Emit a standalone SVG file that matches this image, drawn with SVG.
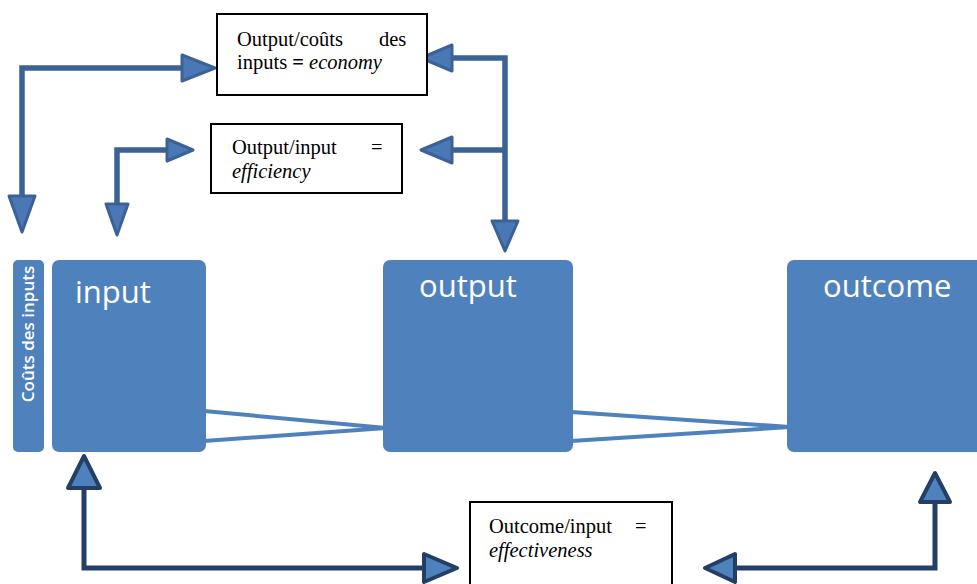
<svg xmlns="http://www.w3.org/2000/svg" width="977" height="584" viewBox="0 0 977 584">
<style>
.blue{fill:#4f81bd}
.lbl{fill:#ffffff;font-family:"Open Sans","Liberation Sans",sans-serif;font-size:31px}
.side{fill:#ffffff;font-family:"Open Sans","Liberation Sans",sans-serif;font-size:17px;font-weight:600}
.box{fill:#ffffff;stroke:#000000;stroke-width:2}
.serif{font-family:"Liberation Serif","Times New Roman",serif;font-size:20.5px;fill:#000000}
.it{font-style:italic}
.ln{fill:none;stroke:#3b6296;stroke-width:5.5;stroke-linejoin:miter}
.lnd{fill:none;stroke:#233f66;stroke-width:5;stroke-linejoin:miter}
.hd{fill:#4a78b5;stroke:#3b6296;stroke-width:3;stroke-linejoin:round}
.hdd{fill:#4f81bd;stroke:#233f66;stroke-width:4;stroke-linejoin:round}
.cn{fill:none;stroke:#4f81bd;stroke-width:4}
</style>
<g id="connectors">
  <line class="cn" x1="204" y1="411" x2="386" y2="428"/>
  <line class="cn" x1="204" y1="441" x2="386" y2="428"/>
  <line class="cn" x1="571" y1="412" x2="790" y2="427"/>
  <line class="cn" x1="571" y1="441" x2="790" y2="427"/>
  <path class="ln" d="M22,198 V68 H184"/>
  <polygon class="hd" points="182,55 215,68 182,81"/>
  <polygon class="hd" points="9,196 35,196 22,232"/>
  <path class="ln" d="M117,206 V150 H169"/>
  <polygon class="hd" points="167,139 193,150 167,161"/>
  <polygon class="hd" points="106,204 128,204 117,235"/>
  <path class="ln" d="M450,58 H505 V223"/>
  <path class="ln" d="M450,150 H505"/>
  <polygon class="hd" points="452,45 421,58 452,71"/>
  <polygon class="hd" points="452,137 421,150 452,163"/>
  <polygon class="hd" points="492,221 518,221 505,251"/>
  <path class="lnd" d="M84,486 V568 H426"/>
  <polygon class="hdd" points="68,488 100,488 84,456"/>
  <polygon class="hdd" points="424,554 457,568 424,582"/>
  <path class="lnd" d="M935,500 V568 H733"/>
  <polygon class="hdd" points="920,502 950,502 935,473"/>
  <polygon class="hdd" points="735,554 705,568 735,582"/>
</g>
<g id="couts">
  <rect class="blue" x="13" y="260" width="31" height="192" rx="5"/>
  <text class="side" transform="translate(34,334) rotate(-90)" text-anchor="middle">Coûts des inputs</text>
</g>
<g id="input">
  <rect class="blue" x="52" y="260" width="154" height="192" rx="7"/>
  <text class="lbl" x="75" y="303">input</text>
</g>
<g id="output">
  <rect class="blue" x="383" y="260" width="190" height="192" rx="7"/>
  <text class="lbl" x="419" y="297">output</text>
</g>
<g id="outcome">
  <rect class="blue" x="787" y="260" width="200" height="192" rx="7"/>
  <text class="lbl" x="823" y="297">outcome</text>
</g>
<g id="economy">
  <rect class="box" x="217" y="14" width="210" height="81"/>
  <text class="serif" x="237" y="46">Output/coûts</text>
  <text class="serif" x="379" y="46">des</text>
  <text class="serif" x="237" y="69">inputs <tspan font-weight="bold">=</tspan> <tspan class="it">economy</tspan></text>
</g>
<g id="efficiency">
  <rect class="box" x="211" y="124" width="191" height="69"/>
  <text class="serif" x="232" y="154">Output/input</text>
  <text class="serif" x="371" y="154">=</text>
  <text class="serif it" x="232" y="178">efficiency</text>
</g>
<g id="effectiveness">
  <rect class="box" x="470" y="502" width="202" height="92"/>
  <text class="serif" x="489" y="533">Outcome/input</text>
  <text class="serif" x="635" y="533">=</text>
  <text class="serif it" x="489" y="557">effectiveness</text>
</g>
</svg>
